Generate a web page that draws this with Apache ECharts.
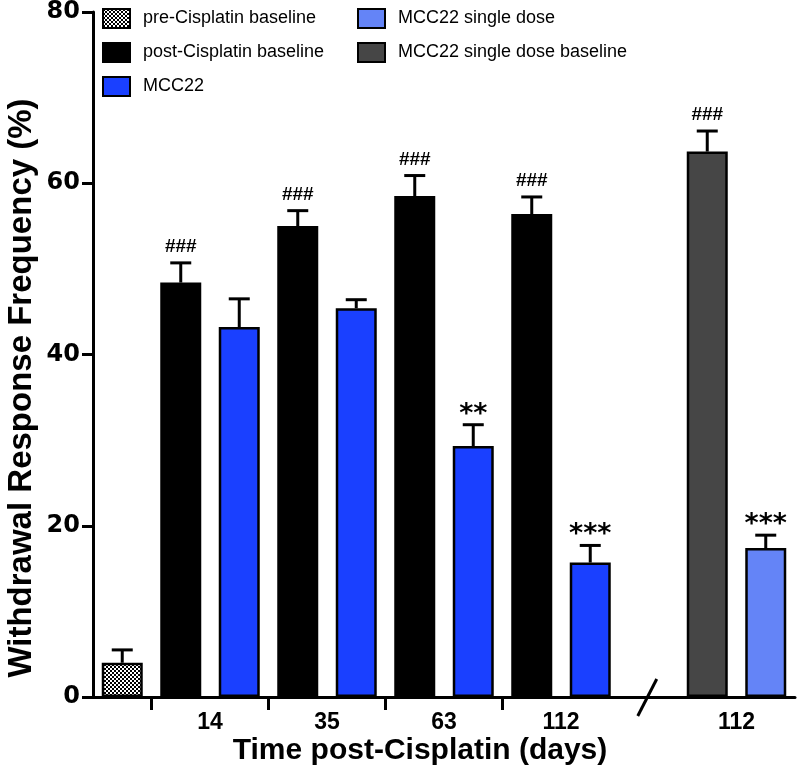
<!DOCTYPE html>
<html><head><meta charset="utf-8">
<script src="https://cdn.jsdelivr.net/npm/echarts@6/dist/echarts.min.js"></script>
<style>html,body{margin:0;padding:0;background:#fff}#c{width:800px;height:778px}</style>
</head><body><div id="c"></div>
<script>
// ---- data ----
const slots = ['pre', '14 post', '14 MCC22', '35 post', '35 MCC22', '63 post', '63 MCC22', '112 post', '112 MCC22', 'gap', '112 SD baseline', '112 SD'];
const tickLabels = ['14', '35', '63', '112', '112'];
const tickLabelSlots = [2, 4, 6, 8, 11];
const tickSlots = [1, 3, 5, 7];
const breakSlot = 9;

const preSlots = [0];
const preBaseline = [4.0];
const preBaselineErr = [1.5];

const postSlots = [1, 3, 5, 7];
const postBaseline = [48.4, 55.0, 58.5, 56.4];
const postBaselineErr = [2.3, 1.8, 2.4, 2.0];
const postSig = ['###', '###', '###', '###'];

const mccSlots = [2, 4, 6, 8];
const mcc22 = [43.2, 45.4, 29.3, 15.7];
const mcc22Err = [3.3, 1.0, 2.5, 2.0];
const mccSig = ['', '', '**', '***'];

const sdBaseSlots = [10];
const sdBaseline = [63.7];
const sdBaselineErr = [2.4];
const sdBaseSig = ['###'];

const sdSlots = [11];
const sdDose = [17.4];
const sdDoseErr = [1.5];
const sdSig = ['***'];

// ---- chart ----
const FONT = "'Liberation Sans', Arial, Helvetica, sans-serif";
const pat = document.createElement('canvas');
pat.width = 4; pat.height = 4;
const pc = pat.getContext('2d');
pc.fillStyle = '#fff'; pc.fillRect(0, 0, 4, 4);
pc.fillStyle = '#000'; pc.fillRect(0, 0, 2, 2); pc.fillRect(2, 2, 2, 2);

function slotData(idx, vals) {
  const d = slots.map(() => '-');
  idx.forEach((s, i) => { d[s] = vals[i]; });
  return d;
}
function barSeries(name, idx, vals, color) {
  return {
    type: 'bar', name, xAxisIndex: 0, yAxisIndex: 0,
    data: slotData(idx, vals), barWidth: 41, barGap: '-100%',
    itemStyle: { color, borderColor: '#000', borderWidth: 2.5 },
    emphasis: { disabled: true }, z: 2
  };
}
function errSeries(name, idx, vals, errs, sigs) {
  return {
    type: 'custom', name: name + ' error', xAxisIndex: 0, yAxisIndex: 0, z: 4, silent: true,
    data: idx.map((s, i) => [s, vals[i], vals[i] + errs[i]]),
    renderItem(params, api) {
      const x = api.value(0);
      const p0 = api.coord([x, api.value(1)]);
      const p1 = api.coord([x, api.value(2)]);
      const half = 10.5;
      const ch = [
        { type: 'line', shape: { x1: p0[0], y1: p0[1], x2: p1[0], y2: p1[1] }, style: { stroke: '#000', lineWidth: 3 } },
        { type: 'line', shape: { x1: p1[0] - half, y1: p1[1], x2: p1[0] + half, y2: p1[1] }, style: { stroke: '#000', lineWidth: 3 } }
      ];
      const s = sigs[params.dataIndex];
      if (s) {
        const star = s.indexOf('*') >= 0;
        ch.push({
          type: 'text', x: p1[0], y: p1[1] - (star ? 10 : 16),
          style: {
            text: s, fill: '#000', textAlign: 'center', textVerticalAlign: 'middle',
            font: star ? "bold 27px 'DejaVu Sans', sans-serif" : "bold 19px " + FONT
          }
        });
      }
      return { type: 'group', children: ch };
    }
  };
}

const chart = echarts.init(document.getElementById('c'), null, { renderer: 'canvas' });
const legendText = { fontSize: 18, fontFamily: FONT, color: '#000', padding: [0, 0, 0, 8] };
chart.setOption({
  animation: false,
  backgroundColor: '#fff',
  grid: { left: 93, right: 5, top: 12, bottom: 81, containLabel: false },
  legend: [
    { data: ['pre-Cisplatin baseline', 'post-Cisplatin baseline', 'MCC22'], orient: 'vertical', left: 97, top: 3,
      itemWidth: 27, itemHeight: 19, itemGap: 13, icon: 'rect', textStyle: legendText, selectedMode: false },
    { data: ['MCC22 single dose', 'MCC22 single dose baseline'], orient: 'vertical', left: 352, top: 3,
      itemWidth: 27, itemHeight: 19, itemGap: 13, icon: 'rect', textStyle: legendText, selectedMode: false }
  ],
  xAxis: [
    { type: 'category', data: slots, position: 'bottom',
      axisLine: { show: true, lineStyle: { color: '#000', width: 3 } },
      axisTick: { show: false }, axisLabel: { show: false }, splitLine: { show: false } },
    { type: 'value', min: 0, max: slots.length, position: 'bottom',
      axisLine: { show: false },
      axisTick: { show: true, customValues: tickSlots, length: 13, inside: false, lineStyle: { color: '#000', width: 3 } },
      axisLabel: { show: true, customValues: tickLabelSlots, margin: 14,
        formatter: v => { const k = tickLabelSlots.indexOf(Math.round(v)); return k >= 0 ? tickLabels[k] : ''; },
        fontSize: 23, fontWeight: 'bold', fontFamily: FONT, color: '#000' },
      splitLine: { show: false } }
  ],
  yAxis: {
    type: 'value', min: 0, max: 80, interval: 20,
    axisLine: { show: true, lineStyle: { color: '#000', width: 3 } },
    axisTick: { show: true, length: 11, lineStyle: { color: '#000', width: 3 } },
    axisLabel: { fontSize: 24, fontWeight: 'bold', fontFamily: "'DejaVu Sans', sans-serif", color: '#000', margin: 13 },
    splitLine: { show: false }
  },
  series: [
    barSeries('pre-Cisplatin baseline', preSlots, preBaseline, { image: pat, repeat: 'repeat' }),
    barSeries('post-Cisplatin baseline', postSlots, postBaseline, '#000000'),
    barSeries('MCC22', mccSlots, mcc22, '#1a40ff'),
    barSeries('MCC22 single dose', sdSlots, sdDose, '#6484f7'),
    barSeries('MCC22 single dose baseline', sdBaseSlots, sdBaseline, '#464646'),
    errSeries('pre-Cisplatin baseline', preSlots, preBaseline, preBaselineErr, ['']),
    errSeries('post-Cisplatin baseline', postSlots, postBaseline, postBaselineErr, postSig),
    errSeries('MCC22', mccSlots, mcc22, mcc22Err, mccSig),
    errSeries('MCC22 single dose baseline', sdBaseSlots, sdBaseline, sdBaselineErr, sdBaseSig),
    errSeries('MCC22 single dose', sdSlots, sdDose, sdDoseErr, sdSig)
  ]
});

const bp = chart.convertToPixel({ xAxisIndex: 0, yAxisIndex: 0 }, [breakSlot, 0]);
chart.setOption({
  graphic: [
    { type: 'line', shape: { x1: bp[0] - 11, y1: bp[1] + 19, x2: bp[0] + 8, y2: bp[1] - 18 },
      style: { stroke: '#000', lineWidth: 3 }, z: 10 },
    { type: 'text', x: 420, y: 751,
      style: { text: 'Time post-Cisplatin (days)', font: "bold 30px " + FONT, fill: '#000',
        textAlign: 'center', textVerticalAlign: 'middle' } },
    { type: 'text', x: 22, y: 388, rotation: Math.PI / 2,
      style: { text: 'Withdrawal Response Frequency (%)', font: "bold 33px " + FONT, fill: '#000',
        textAlign: 'center', textVerticalAlign: 'middle' } }
  ]
});
</script></body></html>
